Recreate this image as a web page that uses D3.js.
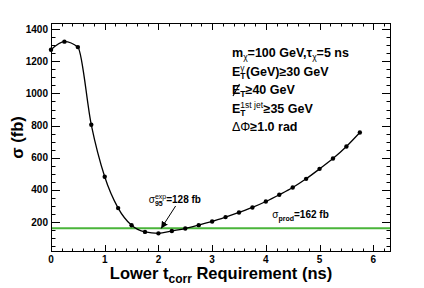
<!DOCTYPE html>
<html>
<head>
<meta charset="utf-8">
<script src="https://cdn.jsdelivr.net/npm/d3@7"></script>
<style>
  body { margin: 0; background: #fff; }
  text { font-family: "Liberation Sans", Arial, sans-serif; }
  .tick-label { font-size: 10px; font-weight: bold; }
  .axis-title { font-size: 16.5px; font-weight: bold; }
  .info { font-size: 12.5px; font-weight: bold; }
</style>
</head>
<body>
<div id="chart"></div>
<script>
// lower t_corr cut (ns) and expected cross-section limit (fb)
const tcorr = [0, 0.25, 0.5, 0.75, 1.0, 1.25, 1.5, 1.75, 2.0, 2.25, 2.5, 2.75,
               3.0, 3.25, 3.5, 3.75, 4.0, 4.25, 4.5, 4.75, 5.0, 5.25, 5.5, 5.75];
const sigma = [1272, 1322, 1288, 805, 482, 287, 180, 139, 130, 145, 160, 181,
               204, 231, 260, 291, 328, 370, 415, 469, 531, 595, 670, 757];
const sigmaProd = 162;
const xTicks = [0, 1, 2, 3, 4, 5, 6];
const yTicks = [200, 400, 600, 800, 1000, 1200, 1400];

const W = 424, H = 288;
const m = {top: 23, right: 33, bottom: 36, left: 51};

const svg = d3.select('#chart').append('svg')
    .attr('width', W)
    .attr('height', H);

const x = d3.scaleLinear().domain([0, 6.33]).range([m.left, W - m.right]);
const y = d3.scaleLinear().domain([14, 1438]).range([H - m.bottom, m.top]);

const x0 = x.range()[0], x1 = x.range()[1];
const y0 = y.range()[0], y1 = y.range()[1];

// minor ticks
const xMinor = d3.range(0, 6.33, 0.2);
const yMinor = d3.range(50, 1438, 50);

const ticks = svg.append('g').attr('stroke', '#000').attr('stroke-width', 1);

function xTick(v, len) {
  const px = Math.round(x(v)) + 0.5;
  ticks.append('line').attr('x1', px).attr('x2', px).attr('y1', y0).attr('y2', y0 - len);
  ticks.append('line').attr('x1', px).attr('x2', px).attr('y1', y1).attr('y2', y1 + len);
}
function yTick(v, len) {
  const py = Math.round(y(v)) + 0.5;
  ticks.append('line').attr('x1', x0).attr('x2', x0 + len).attr('y1', py).attr('y2', py);
  ticks.append('line').attr('x1', x1).attr('x2', x1 - len).attr('y1', py).attr('y2', py);
}
xMinor.forEach(v => xTick(v, 3.5));
xTicks.forEach(v => xTick(v, 7));
yMinor.forEach(v => yTick(v, 4.5));
yTicks.forEach(v => yTick(v, 9));

// frame
svg.append('rect')
    .attr('x', x0 + 0.5)
    .attr('y', y1 + 0.5)
    .attr('width', x1 - x0 - 1)
    .attr('height', y0 - y1 - 1)
    .attr('fill', 'none')
    .attr('stroke', '#000');

// tick labels
svg.selectAll('.xl')
  .data(xTicks)
  .enter().append('text')
    .attr('class', 'tick-label')
    .attr('x', d => x(d))
    .attr('y', y0 + 10.5)
    .attr('text-anchor', 'middle')
    .text(d => d);

svg.selectAll('.yl')
  .data(yTicks)
  .enter().append('text')
    .attr('class', 'tick-label')
    .attr('x', x0 - 3)
    .attr('y', d => y(d) + 3.5)
    .attr('text-anchor', 'end')
    .text(d => d);

// production cross-section line
svg.append('line')
    .attr('x1', x0 + 1).attr('x2', x1 - 1)
    .attr('y1', y(sigmaProd)).attr('y2', y(sigmaProd))
    .attr('stroke', '#4ab53a')
    .attr('stroke-width', 2);

// curve
const line = d3.line()
    .x((d, i) => x(tcorr[i]))
    .y(d => y(d))
    .curve(d3.curveMonotoneX);

svg.append('path')
    .datum(sigma)
    .attr('d', line)
    .attr('fill', 'none')
    .attr('stroke', '#000')
    .attr('stroke-width', 1.3);

svg.selectAll('.pt')
  .data(sigma)
  .enter().append('circle')
    .attr('cx', (d, i) => x(tcorr[i]))
    .attr('cy', d => y(d))
    .attr('r', 2.2)
    .attr('fill', '#000');

// axis titles
const xt = svg.append('text')
    .attr('class', 'axis-title')
    .attr('x', (x0 + x1) / 2)
    .attr('y', 279)
    .attr('text-anchor', 'middle');
xt.append('tspan').text('Lower t');
xt.append('tspan').attr('dy', 4).attr('font-size', 12).text('corr');
xt.append('tspan').attr('dy', -4).text(' Requirement (ns)');

svg.append('text')
    .attr('class', 'axis-title')
    .attr('font-size', 18)
    .attr('transform', `translate(23,${(y0 + y1) / 2}) rotate(-90)`)
    .attr('text-anchor', 'middle')
    .text('σ (fb)');

// info block
const infoX = 232;
function info(yy) {
  return svg.append('text').attr('class', 'info').attr('x', infoX).attr('y', yy);
}
function sub(t, s, dy) {
  return t.append('tspan').attr('font-size', 8.5).attr('font-weight', 'normal').attr('dy', dy).text(s);
}
// E with subscript T and a superscript stacked above it
function eT(t, sup) {
  t.append('tspan').text('E');
  sub(t, 'T', 3).attr('font-weight', 'bold');
  const end = t.node().getEndPositionOfChar(1).x;
  const start = t.node().getStartPositionOfChar(1).x;
  sub(t, sup, -8.5).attr('x', start);
  return end;
}

let t = info(57);
t.append('tspan').text('m');
sub(t, 'χ', 3);
t.append('tspan').attr('dy', -3).text('=100 GeV,τ');
sub(t, 'χ', 3);
t.append('tspan').attr('dy', -3).text('=5 ns');

t = info(76);
let ex = eT(t, 'γ');
t.append('tspan').attr('x', ex + 0.5).attr('dy', 5.5).text('(GeV)≥30 GeV');

t = info(94);
t.append('tspan').text('E');
sub(t, 'T', 3).attr('font-weight', 'bold');
t.append('tspan').attr('dy', -3).text('≥40 GeV');
// slash through the E
svg.append('line')
    .attr('x1', infoX + 1).attr('y1', 96)
    .attr('x2', infoX + 7.5).attr('y2', 84)
    .attr('stroke', '#000')
    .attr('stroke-width', 1.1);

t = info(113);
const e2 = eT(t, '1st jet');
const supEnd = t.node().getEndPositionOfChar(t.node().textContent.length - 1).x;
t.append('tspan').attr('x', Math.max(e2, supEnd) + 0.5).attr('dy', 5.5).text('≥35 GeV');

t = info(131);
t.append('tspan').attr('font-weight', 'normal').text('ΔΦ');
t.append('tspan').text('≥1.0 rad');

// annotations
const a1 = svg.append('text')
    .attr('x', x(1.82))
    .attr('y', 203)
    .attr('font-size', 10);
a1.append('tspan').text('σ');
a1.append('tspan').attr('font-size', 7).attr('font-weight', 'bold').attr('dy', 3).text('95');
a1.append('tspan').attr('font-size', 7).attr('dy', -7).attr('dx', -7.8).text('exp');
a1.append('tspan').attr('font-weight', 'bold').attr('dy', 4).text('=128 fb');

svg.append('defs').append('marker')
    .attr('id', 'arrow')
    .attr('viewBox', '0 0 10 10')
    .attr('refX', 10).attr('refY', 5)
    .attr('markerWidth', 7).attr('markerHeight', 7)
    .attr('markerUnits', 'userSpaceOnUse')
    .attr('orient', 'auto')
  .append('path')
    .attr('d', 'M0,0 L10,5 L0,10 z')
    .attr('fill', '#000');

svg.append('line')
    .attr('x1', x(2.32)).attr('y1', y(300))
    .attr('x2', x(2.05)).attr('y2', y(160))
    .attr('stroke', '#000')
    .attr('stroke-width', 1)
    .attr('marker-end', 'url(#arrow)');

const a2 = svg.append('text')
    .attr('x', x(4.12))
    .attr('y', 218)
    .attr('font-size', 10);
a2.append('tspan').text('σ');
a2.append('tspan').attr('font-size', 7).attr('font-weight', 'bold').attr('dy', 3).text('prod');
a2.append('tspan').attr('font-weight', 'bold').attr('dy', -3).text('=162 fb');
</script>
</body>
</html>
